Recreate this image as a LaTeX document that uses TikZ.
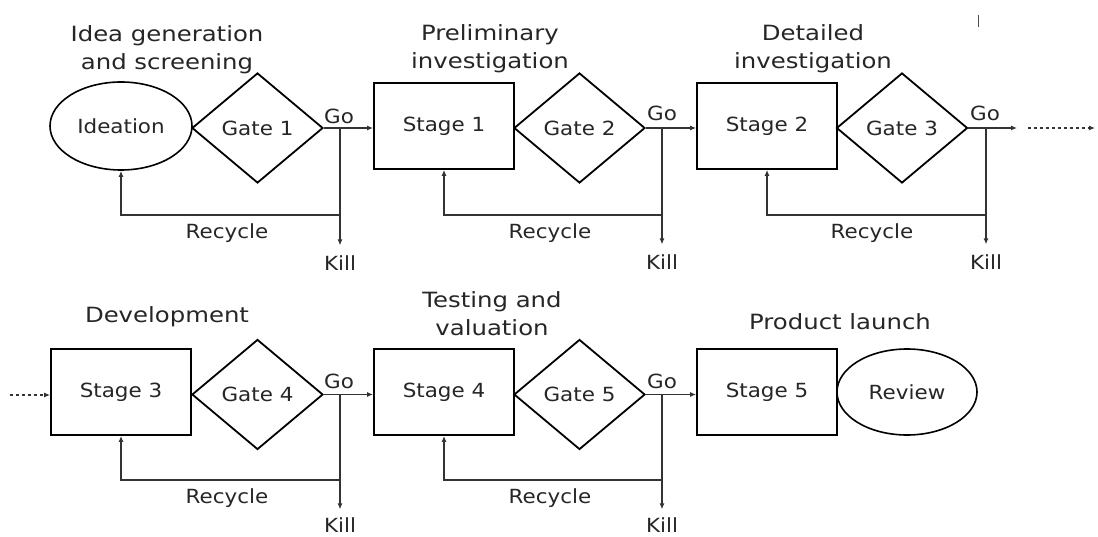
\documentclass[tikz,border=0pt]{standalone}
\usepackage{fontspec}
\setmainfont{DejaVu Sans}[FakeStretch=1.1]
\newfontfamily\titlefont{DejaVu Sans}[FakeStretch=1.16]
\usetikzlibrary{shapes.geometric,arrows.meta}

\begin{document}
\begin{tikzpicture}[x=1pt,y=-1pt,
  txt/.style={text=black!85, font=\fontsize{19.5}{23}\selectfont},
  ttl/.style={text=black!85, align=center, inner sep=0pt, font=\titlefont\fontsize{21}{28}\selectfont},
  stagebox/.style={draw, line width=1.8pt, minimum width=140pt, minimum height=86pt, inner sep=0pt, txt},
  gatebox/.style={draw, diamond, line width=1.8pt, minimum width=131pt, minimum height=110pt, inner sep=0pt, shape aspect=1.19, txt},
  oval/.style={draw, ellipse, line width=1.6pt, minimum width=142pt, minimum height=88pt, inner sep=0pt, txt},
  conn/.style={draw=black!80, line width=1.4pt},
  arr/.style={conn, -{Latex[length=6pt,width=5pt]}},
  dotarr/.style={arr, dash pattern=on 3pt off 3pt},
  lbl/.style={txt, inner sep=0pt},
]
\useasboundingbox (0,0) rectangle (1098,537);
\fill[white] (0,0) rectangle (1098,537);

% ---------- first row ----------
\node[ttl] (t1) at (167,50) {Idea generation\\and screening};
\node[ttl] (t2) at (490,49) {Preliminary\\investigation};
\node[ttl] (t3) at (813,49) {Detailed\\investigation};
\draw[black!70, line width=1pt] (978,15) -- (978,27);

\node[oval] (ideation) at (121,126) {Ideation};
\node[gatebox] (gate1) at (257.5,128) {Gate 1};
\node[stagebox] (stage1) at (444,126) {Stage 1};
\node[gatebox] (gate2) at (579.5,128) {Gate 2};
\node[stagebox] (stage2) at (767,126) {Stage 2};
\node[gatebox] (gate3) at (902,128) {Gate 3};

\coordinate (j1) at (340,128);
\coordinate (j2) at (662,128);
\coordinate (j3) at (986,128);
\coordinate (r1) at (340,215);
\coordinate (r2) at (662,215);
\coordinate (r3) at (986,215);
\coordinate (out1) at (1017,128);
\coordinate (ds) at (1028,128);
\coordinate (de) at (1095,128);

\node[lbl] (go1) at (339,116) {Go};
\node[lbl] (go2) at (662,113) {Go};
\node[lbl] (go3) at (985,113) {Go};
\node[lbl] (kill1) at (340,263) {Kill};
\node[lbl] (kill2) at (662,262) {Kill};
\node[lbl] (kill3) at (986,262) {Kill};
\node[lbl] (rec1) at (227,233) {Recycle};
\node[lbl] (rec2) at (550,233) {Recycle};
\node[lbl] (rec3) at (872,233) {Recycle};

\draw[arr] (gate1.east) -- (stage1.west |- gate1.east);
\draw[arr] (gate2.east) -- (stage2.west |- gate2.east);
\draw[arr] (gate3.east) -- (out1);
\draw[dotarr] (ds) -- (de);

\draw[arr, shorten >=10pt] (j1) -- (kill1.north);
\draw[arr, shorten >=10pt] (j2) -- (kill2.north);
\draw[arr, shorten >=10pt] (j3) -- (kill3.north);

\draw[arr] (r1) -| (ideation.south);
\draw[arr] (r2) -| (stage1.south);
\draw[arr] (r3) -| (stage2.south);

% ---------- second row ----------
\node[ttl] (t4) at (167,317) {Development};
\node[ttl] (t5) at (492,314) {Testing and\\valuation};
\node[ttl] (t6) at (840,322) {Product launch};

\node[stagebox] (stage3) at (121,392) {Stage 3};
\node[gatebox] (gate4) at (257.5,394.5) {Gate 4};
\node[stagebox] (stage4) at (444,392) {Stage 4};
\node[gatebox] (gate5) at (579.5,394.5) {Gate 5};
\node[stagebox] (stage5) at (767,392) {Stage 5};
\node[oval, minimum width=140pt, minimum height=86pt] (review) at (907,392) {Review};

\coordinate (inL) at (10,395);
\coordinate (j4) at (340,395);
\coordinate (j5) at (662,395);
\coordinate (r4) at (340,480);
\coordinate (r5) at (662,480);

\node[lbl] (go4) at (339,381) {Go};
\node[lbl] (go5) at (662,381) {Go};
\node[lbl] (kill4) at (340,525) {Kill};
\node[lbl] (kill5) at (662,525) {Kill};
\node[lbl] (rec4) at (227,498) {Recycle};
\node[lbl] (rec5) at (550,498) {Recycle};

\draw[dotarr] (inL) -- (stage3.west |- inL);
\draw[arr] (gate4.east) -- (stage4.west |- gate4.east);
\draw[arr] (gate5.east) -- (stage5.west |- gate5.east);

\draw[arr, shorten >=8pt] (j4) -- (kill4.north);
\draw[arr, shorten >=8pt] (j5) -- (kill5.north);

\draw[arr] (r4) -| (stage3.south);
\draw[arr] (r5) -| (stage4.south);
\end{tikzpicture}
\end{document}
